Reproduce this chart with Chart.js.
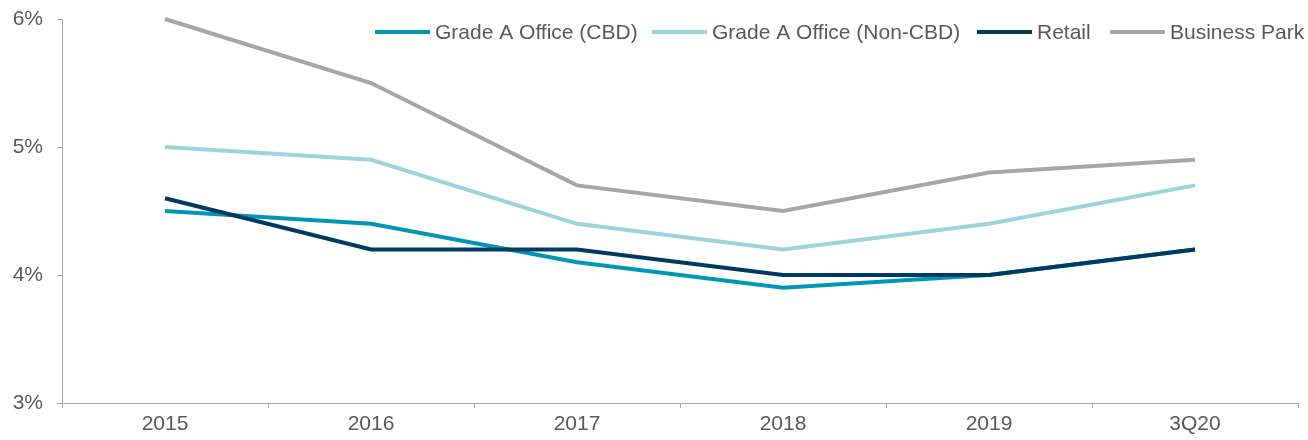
<!DOCTYPE html>
<html>
<head>
<meta charset="utf-8">
<script src="https://cdn.jsdelivr.net/npm/chart.js@4/dist/chart.umd.min.js"></script>
<style>
  html, body { margin: 0; padding: 0; background: #fff; }
  #wrap { width: 1308px; height: 440px; }
</style>
</head>
<body>
<div id="wrap"><canvas id="grafico"></canvas></div>
<script>
const categorias = ["2015", "2016", "2017", "2018", "2019", "3Q20"];
const oficinaCBD = [4.5, 4.4, 4.1, 3.9, 4.0, 4.2];
const oficinaNoCBD = [5.0, 4.9, 4.4, 4.2, 4.4, 4.7];
const retail = [4.6, 4.2, 4.2, 4.0, 4.0, 4.2];
const businessPark = [6.0, 5.5, 4.7, 4.5, 4.8, 4.9];
const ticksY = [3, 4, 5, 6];

const fuente = "'Liberation Sans', Arial, sans-serif";
const gris = "#a6a6a6";
const textoGris = "#595959";

function serie(label, data, color, orden) {
  return {
    label: label,
    data: data,
    borderColor: color,
    backgroundColor: color,
    borderWidth: 4,
    pointRadius: 0,
    tension: 0,
    clip: false,
    order: orden
  };
}

// Leyenda horizontal dibujada dentro del área del gráfico
const leyenda = {
  id: "leyenda",
  afterDraw(chart) {
    const c = chart.ctx;
    const inicios = [375, 652, 977, 1110];
    const y = 32;
    c.save();
    c.font = "21px " + fuente;
    c.textBaseline = "middle";
    c.textAlign = "left";
    chart.data.datasets.forEach((ds, i) => {
      const x = inicios[i];
      c.fillStyle = ds.borderColor;
      c.fillRect(x, y - 2, 55, 4);
      c.fillStyle = textoGris;
      c.fillText(ds.label, x + 60, y + 1);
    });
    c.restore();
  }
};

const ctx = document.getElementById("grafico").getContext("2d");

new Chart(ctx, {
  type: "line",
  data: {
    labels: categorias,
    datasets: [
      serie("Grade A Office (CBD)", oficinaCBD, "#0097b6", 3),
      serie("Grade A Office (Non-CBD)", oficinaNoCBD, "#9dd3dd", 2),
      serie("Retail", retail, "#003a63", 1),
      serie("Business Park", businessPark, "#a6a6a6", 0)
    ]
  },
  plugins: [leyenda],
  options: {
    responsive: true,
    maintainAspectRatio: false,
    animation: false,
    layout: { padding: { top: 19, right: 10, left: 0, bottom: 0 } },
    plugins: {
      tooltip: { enabled: false },
      legend: { display: false }
    },
    scales: {
      x: {
        offset: true,
        grid: {
          offset: true,
          drawOnChartArea: false,
          drawTicks: true,
          tickLength: 5,
          color: gris
        },
        border: { display: true, color: gris, width: 1 },
        ticks: {
          color: textoGris,
          font: { family: fuente, size: 21 },
          padding: 4,
          maxRotation: 0
        },
        afterFit: s => { s.height = 37; s.paddingLeft = 0; s.paddingRight = 0; }
      },
      y: {
        min: 3,
        max: 6,
        afterBuildTicks: s => { s.ticks = ticksY.map(v => ({ value: v })); },
        grid: {
          drawOnChartArea: false,
          drawTicks: true,
          tickLength: 5,
          color: gris
        },
        border: { display: true, color: gris, width: 1 },
        ticks: {
          color: textoGris,
          font: { family: fuente, size: 21 },
          padding: 14,
          callback: v => v + "%"
        },
        afterFit: s => { s.width = 62; s.paddingTop = 0; s.paddingBottom = 0; }
      }
    }
  }
});
</script>
</body>
</html>
